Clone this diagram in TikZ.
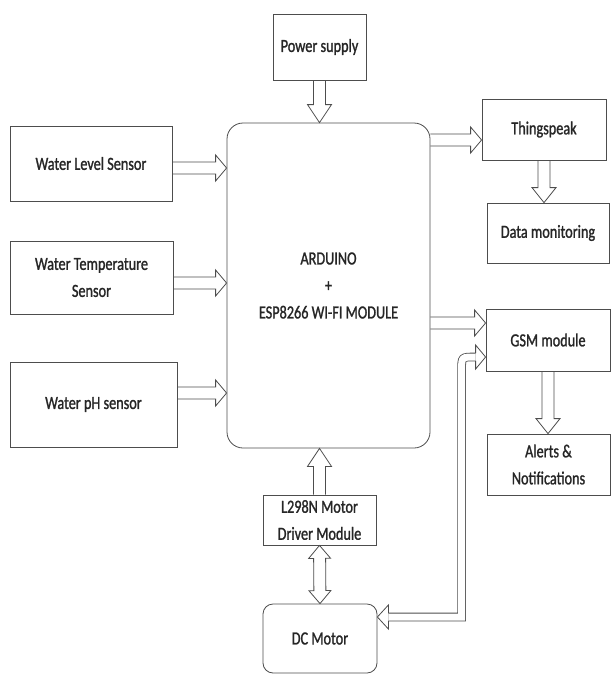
\documentclass[tikz,border=0pt]{standalone}
\usepackage{fontspec}
\setmainfont{Carlito}[FakeStretch=0.77,FakeBold=1.2]
\usetikzlibrary{calc}
\definecolor{lc}{HTML}{4D4D4D}
\definecolor{tc}{HTML}{262626}
\tikzset{
  bsw/.store in=\bsw, bhw/.store in=\bhw, bhl/.store in=\bhl,
  bsw=6pt, bhw=13pt, bhl=12pt,
  box/.style={draw=lc, line width=0.8pt, inner sep=0pt, align=center, text=tc,
    font=\fontsize{18.5}{27}\selectfont},
  blockarrow/.style={draw=lc, line width=0.8pt, to path={
    ($(\tikztostart)!\bsw!90:(\tikztotarget)$)
    -- ($($(\tikztotarget)!\bhl!(\tikztostart)$)!\bsw!90:(\tikztotarget)$)
    -- ($($(\tikztotarget)!\bhl!(\tikztostart)$)!\bhw!90:(\tikztotarget)$)
    -- (\tikztotarget)
    -- ($($(\tikztotarget)!\bhl!(\tikztostart)$)!\bhw!-90:(\tikztotarget)$)
    -- ($($(\tikztotarget)!\bhl!(\tikztostart)$)!\bsw!-90:(\tikztotarget)$)
    -- ($(\tikztostart)!\bsw!-90:(\tikztotarget)$)
  }},
  blockdarrow/.style={draw=lc, line width=0.8pt, to path={
    ($($(\tikztostart)!\bhl!(\tikztotarget)$)!\bsw!90:(\tikztotarget)$)
    -- ($($(\tikztotarget)!\bhl!(\tikztostart)$)!\bsw!90:(\tikztotarget)$)
    -- ($($(\tikztotarget)!\bhl!(\tikztostart)$)!\bhw!90:(\tikztotarget)$)
    -- (\tikztotarget)
    -- ($($(\tikztotarget)!\bhl!(\tikztostart)$)!\bhw!-90:(\tikztotarget)$)
    -- ($($(\tikztotarget)!\bhl!(\tikztostart)$)!\bsw!-90:(\tikztotarget)$)
    -- ($($(\tikztostart)!\bhl!(\tikztotarget)$)!\bsw!-90:(\tikztotarget)$)
    -- ($($(\tikztostart)!\bhl!(\tikztotarget)$)!\bhw!-90:(\tikztotarget)$)
    -- (\tikztostart)
    -- ($($(\tikztostart)!\bhl!(\tikztotarget)$)!\bhw!90:(\tikztotarget)$)
    -- cycle
  }},
  bhead/.style={draw=lc, line width=0.8pt, to path={
    ($($(\tikztotarget)!\bhl!(\tikztostart)$)!\bsw!90:(\tikztotarget)$)
    -- ($($(\tikztotarget)!\bhl!(\tikztostart)$)!\bhw!90:(\tikztotarget)$)
    -- (\tikztotarget)
    -- ($($(\tikztotarget)!\bhl!(\tikztostart)$)!\bhw!-90:(\tikztotarget)$)
    -- ($($(\tikztotarget)!\bhl!(\tikztostart)$)!\bsw!-90:(\tikztotarget)$)
  }},
  dshaft/.style={draw=lc, line width=0.8pt, double=white, double distance=7pt},
}
\begin{document}
\begin{tikzpicture}[x=1pt,y=-1pt]
\useasboundingbox[fill=white] (0,0) rectangle (611,675);
% boxes
\node[box, minimum width=93pt, minimum height=66pt] (power) at (319.5,47) {Power supply};
\node[box, rounded corners=16pt, minimum width=203pt, minimum height=325pt] (main) at (328.5,285.5) {ARDUINO\\+\\ESP8266 WI-FI MODULE};
\node[box, minimum width=162pt, minimum height=75pt] (level) at (91,163.5) {Water Level Sensor};
\node[box, minimum width=163pt, minimum height=73pt] (temp) at (91.5,277.5) {Water Temperature\\Sensor};
\node[box, minimum width=167pt, minimum height=85pt] (ph) at (93.5,404.5) {Water pH sensor};
\node[box, minimum width=124pt, minimum height=61pt] (thing) at (544,129.5) {Thingspeak};
\node[box, minimum width=122pt, minimum height=60pt] (datamon) at (548,233) {Data monitoring};
\node[box, minimum width=124pt, minimum height=62pt] (gsm) at (548,340) {GSM module};
\node[box, minimum width=123pt, minimum height=61pt] (alerts) at (548.5,464.5) {Alerts \&\\Notifications};
\node[box, minimum width=113pt, minimum height=50pt] (l298) at (319.5,520) {L298N Motor\\Driver Module};
\node[box, rounded corners=10pt, minimum width=114pt, minimum height=69pt] (dc) at (320,638.5) {DC Motor};
% endpoints
\path (level.east) ++(0,4.5) coordinate (a1s);
\coordinate (a1t) at (a1s -| main.west);
\path (temp.east) ++(0,5.5) coordinate (a2s);
\coordinate (a2t) at (a2s -| main.west);
\path (ph.east) ++(0,-11.5) coordinate (a3s);
\coordinate (a3t) at (a3s -| main.west);
\coordinate (a4t) at (power.south |- main.north);
\path (thing.west) ++(0,10.5) coordinate (a5t);
\coordinate (a5s) at (a5t -| main.east);
\path (gsm.west) ++(0,-17) coordinate (a6t);
\coordinate (a6s) at (a6t -| main.east);
\coordinate (a7t) at (thing.south |- datamon.north);
\coordinate (a8t) at (gsm.south |- alerts.north);
\coordinate (a9t) at (l298.north |- main.south);
% block arrows
\draw[blockarrow, bhl=11pt] (a1s) to (a1t);
\draw[blockarrow, bhl=11pt] (a2s) to (a2t);
\draw[blockarrow, bhl=11pt] (a3s) to (a3t);
\draw[blockarrow, bhl=18pt, bhw=12pt] (power.south) to (a4t);
\draw[blockarrow, bhl=11pt] (a5s) to (a5t);
\draw[blockarrow, bhl=11pt] (a6s) to (a6t);
\draw[blockarrow, bhl=15pt, bhw=12pt] (thing.south) to (a7t);
\draw[blockarrow, bhl=15pt, bhw=12pt] (gsm.south) to (a8t);
\draw[blockarrow, bhl=18pt, bhw=12pt] (l298.north) to (a9t);
\draw[blockdarrow, bhl=13pt, bhw=11pt] (l298.south) to (dc.north);
% bent double arrow DC motor <-> GSM
\path (dc.east) ++(0,-21.5) coordinate (b1);
\path (gsm.west) ++(0,17) coordinate (b4);
\path (b4) ++(-24,0) coordinate (b3);
\coordinate (b2) at (b1 -| b3);
\path (b1) ++(11,0) coordinate (b1h);
\path (b4) ++(-10,0) coordinate (b4h);
\path (b3) ++(0,13) coordinate (b3a);
\path (b3) ++(13,0) coordinate (b3b);
\draw[dshaft] (b1h) -- (b2) -- (b3a) .. controls (b3) .. (b3b) -- (b4h);
\draw[bhead, bsw=3.9pt, bhw=12pt, bhl=10pt] (b3) to (b4);
\draw[bhead, bsw=3.9pt, bhw=12pt, bhl=11pt] (b2) to (b1);
\end{tikzpicture}
\end{document}
